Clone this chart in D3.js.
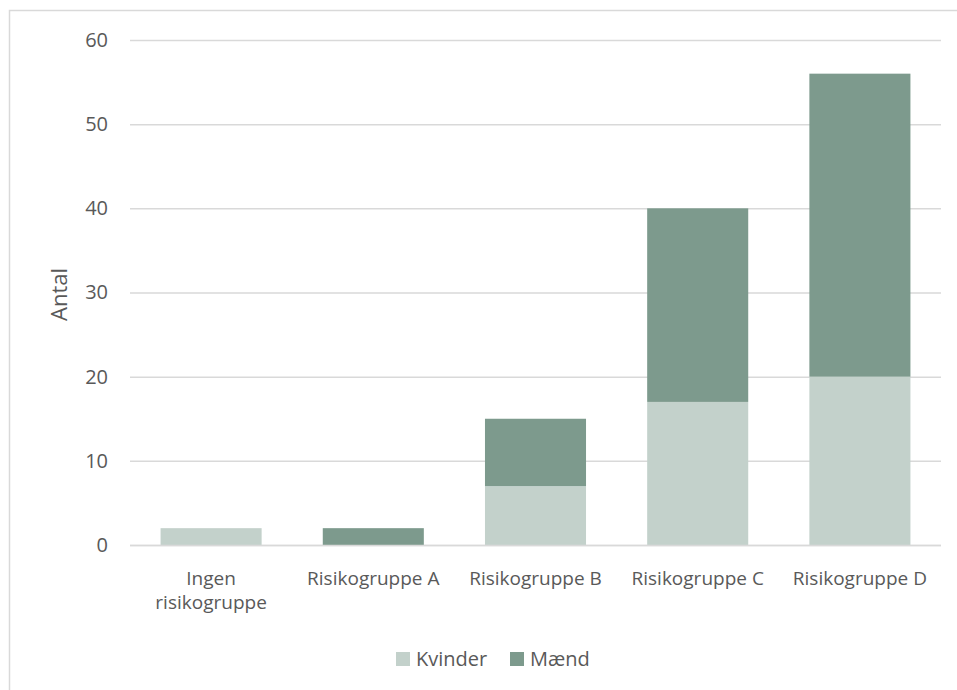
<!DOCTYPE html>
<html>
<head>
<meta charset="utf-8">
<script src="https://cdn.jsdelivr.net/npm/d3@7"></script>
<style>
  body { margin: 0; background: #fff; }
  svg text { font-family: "Open Sans", "Liberation Sans", sans-serif; fill: #595959; }
</style>
</head>
<body>
<svg id="chart" width="957" height="690"></svg>
<script>
// Counts per risk group, split by sex
const categories = [["Ingen", "risikogruppe"], ["Risikogruppe A"], ["Risikogruppe B"], ["Risikogruppe C"], ["Risikogruppe D"]];
const kvinder = [2, 0, 7, 17, 20];
const maend = [0, 2, 8, 23, 36];
const seriesNames = ["Kvinder", "Mænd"];
const seriesColors = ["#c3d1cb", "#7d9a8d"];
const yTicks = [0, 10, 20, 30, 40, 50, 60];

const svg = d3.select("#chart");
const W = 957, H = 690;

// outer chart border
svg.append("rect")
  .attr("x", 9.5).attr("y", 10.5)
  .attr("width", W).attr("height", H)
  .attr("fill", "none").attr("stroke", "#d9d9d9").attr("stroke-width", 1.5);

const plotLeft = 130, plotRight = 941, plotTop = 40, plotBottom = 545;

const x = d3.scaleBand()
  .domain(d3.range(categories.length))
  .range([plotLeft, plotRight])
  .paddingInner(0.377).paddingOuter(0.1885);

const y = d3.scaleLinear().domain([0, 60]).range([plotBottom, plotTop]);

// gridlines
svg.append("g").selectAll("line")
  .data(yTicks).join("line")
  .attr("x1", plotLeft).attr("x2", plotRight)
  .attr("y1", d => y(d) + 0.5).attr("y2", d => y(d) + 0.5)
  .attr("stroke", "#d9d9d9").attr("stroke-width", 1.5);

// y axis tick labels
const yAxis = d3.axisLeft(y).tickValues(yTicks).tickSize(0).tickPadding(0);
const yg = svg.append("g").attr("transform", `translate(${plotLeft - 22},0)`).call(yAxis);
yg.attr("font-size", null).attr("font-family", null);
yg.select(".domain").remove();
yg.selectAll("text")
  .attr("font-size", 20).attr("fill", "#595959");

// y axis title
svg.append("text")
  .attr("transform", `translate(67,${(plotTop + plotBottom) / 2 + 2}) rotate(-90)`)
  .attr("text-anchor", "middle")
  .attr("font-size", 22)
  .text("Antal");

// stacked bars
const rows = categories.map((c, i) => ({ i, Kvinder: kvinder[i], "Mænd": maend[i] }));
const stacked = d3.stack().keys(seriesNames)(rows);

svg.append("g").selectAll("g")
  .data(stacked).join("g")
  .attr("fill", (d, k) => seriesColors[k])
  .selectAll("rect")
  .data(d => d).join("rect")
  .attr("x", d => x(d.data.i))
  .attr("width", x.bandwidth())
  .attr("y", d => y(d[1]))
  .attr("height", d => y(d[0]) - y(d[1]));

// baseline over bars
svg.append("line")
  .attr("x1", plotLeft).attr("x2", plotRight)
  .attr("y1", y(0) + 0.5).attr("y2", y(0) + 0.5)
  .attr("stroke", "#d9d9d9").attr("stroke-width", 1.5);

// category labels
const xg = svg.append("g");
categories.forEach((lines, i) => {
  const cx = x(i) + x.bandwidth() / 2;
  const t = xg.append("text")
    .attr("x", cx)
    .attr("y", 585)
    .attr("text-anchor", "middle")
    .attr("font-size", 19);
  lines.forEach((ln, j) => {
    t.append("tspan").attr("x", cx).attr("dy", j === 0 ? 0 : 24).text(ln);
  });
});

// legend
const legendItems = [{ name: seriesNames[0], x: 396 }, { name: seriesNames[1], x: 510 }];
const lg = svg.append("g");
legendItems.forEach((it, k) => {
  lg.append("rect").attr("x", it.x).attr("y", 652).attr("width", 14).attr("height", 14)
    .attr("fill", seriesColors[k]);
  lg.append("text").attr("x", it.x + 20).attr("y", 666).attr("font-size", 20).text(it.name);
});
</script>
</body>
</html>
